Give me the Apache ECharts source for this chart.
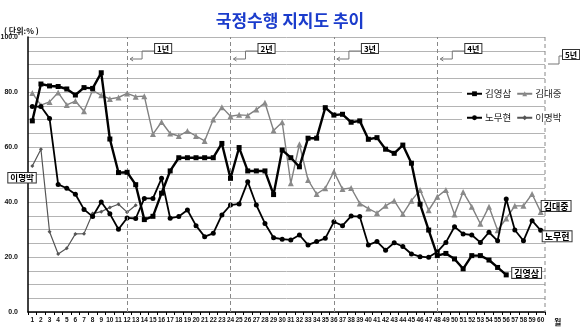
<!DOCTYPE html>
<html><head><meta charset="utf-8">
<script src="https://cdn.jsdelivr.net/npm/echarts@6/dist/echarts.min.js"></script>
<style>html,body{margin:0;padding:0;background:#fff}#c{width:580px;height:331px}</style>
</head><body><div id="c"></div>
<script>
const months = ['1','2','3','4','5','6','7','8','9','10','11','12','13','14','15','16','17','18','19','20',
  '21','22','23','24','25','26','27','28','29','30','31','32','33','34','35','36','37','38','39','40',
  '41','42','43','44','45','46','47','48','49','50','51','52','53','54','55','56','57','58','59','60'];
const yTickLabels = ['0.0','20.0','40.0','60.0','80.0','100.0'];
const yearMonths = ['12','24','36','48','60'];
const yearLabels = ['1년','2년','3년','4년','5년'];

const kimYoungsam = [69.5,82.9,82.2,82.0,81.1,78.9,81.6,81.3,87.0,62.9,
  50.7,50.8,46.3,33.6,34.8,43.2,51.3,56.1,56.1,56.1,
  56.1,56.1,61.3,48.6,59.8,51.3,51.3,51.3,42.7,58.9,
  56.1,52.8,63.2,63.2,74.3,71.6,71.9,69.0,69.5,62.8,
  63.4,59.2,57.7,60.7,54.1,39.2,29.8,20.5,21.3,19.3,
  15.7,20.5,20.5,18.9,16.2,13.5];
const kimDaejung = [79.6,75.2,76.4,79.8,75.3,76.7,73.0,80.6,78.8,77.5,
  78.0,79.5,78.3,78.5,64.7,69.1,64.9,64.0,65.8,64.0,
  62.2,70.0,74.5,71.2,71.7,71.5,73.6,76.1,66.0,69.0,
  46.8,61.0,48.0,42.9,45.0,51.0,44.7,45.1,39.5,37.6,
  36.0,38.6,40.5,35.6,40.5,44.4,37.0,41.9,44.4,35.5,
  43.6,38.3,32.1,38.3,29.7,34.0,38.6,38.6,42.9,36.4];
const rohMoohyun = [74.7,74.7,70.4,46.4,45.0,42.8,37.3,34.7,40.0,35.7,
  30.1,34.2,34.0,41.3,41.3,48.6,34.1,34.7,37.1,31.4,
  27.4,28.6,35.3,38.9,39.3,47.4,38.9,32.2,27.0,26.5,
  26.2,28.0,24.4,25.6,26.8,32.8,31.4,34.9,34.7,24.4,
  25.6,22.5,25.2,23.8,21.1,20.1,19.9,21.9,25.3,31.0,
  28.4,28.0,25.3,29.0,25.9,41.1,29.8,25.9,33.2,29.7];
const leeMyungbak = [53.1,59.2,29.2,21.1,23.2,28.4,28.5,35.8,36.5,38.0,39.2,36.3,38.8];

const KR = '"Noto Sans CJK KR","Noto Sans",sans-serif';
const SMALL = '"Liberation Sans",Arial,sans-serif';

const chart = echarts.init(document.getElementById('c'));
const option = {
  animation: false,
  backgroundColor: '#fff',
  title: {
    text: '국정수행 지지도 추이', left: 'center', top: 7,
    textStyle: {fontFamily: KR, fontSize: 17, fontWeight: 'bold', color: '#1b3ccc'}
  },
  legend: [
    {data: ['김영삼','김대중'], left: 462, top: 86, itemGap: 5, itemWidth: 15, itemHeight: 6,
     backgroundColor: '#fff', padding: [3,4,3,4],
     textStyle: {fontFamily: KR, fontSize: 9.5, color: '#222', padding: [0,0,0,-2]}},
    {data: ['노무현','이명박'], left: 462, top: 110, itemGap: 5, itemWidth: 15, itemHeight: 6,
     backgroundColor: '#fff', padding: [3,4,5,4],
     textStyle: {fontFamily: KR, fontSize: 9.5, color: '#222', padding: [0,0,0,-2]}}
  ],
  grid: {left: 28, right: 35, top: 37, bottom: 19, containLabel: false, outerBoundsMode: 'none'},
  xAxis: {
    type: 'category', data: months, boundaryGap: true,
    axisLine: {lineStyle: {color: '#000', width: 1.5}},
    axisTick: {show: true, length: 3, lineStyle: {color: '#000'}},
    axisLabel: {interval: 0, margin: 5, fontSize: 6.5, fontWeight: 'bold', fontFamily: SMALL, color: '#111'},
    splitLine: {show: false}
  },
  yAxis: {
    type: 'value', min: 0, max: 100, interval: 5,
    axisLine: {show: true, lineStyle: {color: '#000', width: 1.5}},
    axisTick: {show: false},
    axisLabel: {
      margin: 10, fontSize: 7, fontWeight: 'bold', fontFamily: SMALL, color: '#111',
      formatter: v => (v % 20 === 0 ? yTickLabels[v / 20] : '')
    },
    splitLine: {show: true, lineStyle: {color: '#b4b4b4', width: 1}}
  },
  series: [
    {name: '김영삼', type: 'line', data: kimYoungsam, symbol: 'rect', symbolSize: 5,
     lineStyle: {color: '#000', width: 2.4}, itemStyle: {color: '#000'}, z: 5},
    {name: '김대중', type: 'line', data: kimDaejung, symbol: 'triangle', symbolSize: 6,
     lineStyle: {color: '#808080', width: 1.4}, itemStyle: {color: '#8a8a8a'}, z: 3},
    {name: '노무현', type: 'line', data: rohMoohyun, symbol: 'circle', symbolSize: 5,
     lineStyle: {color: '#000', width: 1.8}, itemStyle: {color: '#000'}, z: 4,
     markLine: {silent: true, symbol: 'none', label: {show: false},
       lineStyle: {color: '#888', type: [4,3], width: 1},
       data: yearMonths.slice(0, 4).map(m => ({xAxis: m}))}},
    {name: '이명박', type: 'line', data: leeMyungbak, symbol: 'diamond', symbolSize: 4,
     lineStyle: {color: '#555', width: 1.2}, itemStyle: {color: '#555'}, z: 3}
  ]
};
chart.setOption(option);

// annotations positioned from the axes' own scale
const px = (i, v) => chart.convertToPixel({seriesIndex: 0}, [i, v]);
const xOf = m => chart.convertToPixel({xAxisIndex: 0}, m);
const step = xOf('60') - xOf('59');
const g = [];
const boxText = (text, x, y, size) => ({
  type: 'text', z: 100, x: x, y: y,
  style: {text: text, font: 'bold ' + size + 'px ' + KR, fill: '#000',
    backgroundColor: '#fff', borderColor: '#333', borderWidth: 1, padding: [1, 2, 0, 2]}
});
yearMonths.forEach((m, k) => {
  let xd = xOf(m);
  if (k === 4) {
    xd = xd + step / 2;
    g.push({type: 'line', z: 50, shape: {x1: xd, y1: 37, x2: xd, y2: 312},
      style: {stroke: '#888', lineWidth: 1, lineDash: [4, 3]}});
    g.push({type: 'polyline', z: 50, shape: {points: [[xd + 3, 64], [xd + 14, 64], [xd + 14, 56], [xd + 18, 56]]},
      style: {stroke: '#777', lineWidth: 1, fill: null}});
    g.push(boxText(yearLabels[k], xd + 18, 50, 8));
  } else {
    g.push({type: 'polyline', z: 50, shape: {points: [[xd + 3, 59], [xd + 15, 59], [xd + 15, 51], [xd + 28, 51]]},
      style: {stroke: '#777', lineWidth: 1, fill: null}});
    g.push({type: 'polyline', z: 50, shape: {points: [[xd + 6, 57], [xd + 3, 59], [xd + 6, 61]]},
      style: {stroke: '#777', lineWidth: 1, fill: null}});
    g.push(boxText(yearLabels[k], xd + 28, 44, 8));
  }
});
// series name tags
let p = px(kimDaejung.length - 1, kimDaejung[kimDaejung.length - 1]);
g.push(boxText('김대중', p[0] + 1, p[1] - 11, 9));
p = px(rohMoohyun.length - 1, rohMoohyun[rohMoohyun.length - 1]);
g.push(boxText('노무현', p[0] + 2, p[1] + 1, 9));
p = px(kimYoungsam.length - 1, kimYoungsam[kimYoungsam.length - 1]);
g.push(boxText('김영삼', p[0] + 6, p[1] - 7, 9));
p = px(0, leeMyungbak[0]);
g.push(boxText('이명박', p[0] - 24, p[1] + 7, 8.5));
// unit and month captions
g.push({type: 'text', x: 4, y: 27, style: {text: '( 단위:% )', font: 'bold 8px ' + KR, fill: '#111'}});
g.push({type: 'text', x: 554, y: 318, style: {text: '월', font: 'bold 8px ' + KR, fill: '#111'}});
chart.setOption({graphic: g});
</script></body></html>
